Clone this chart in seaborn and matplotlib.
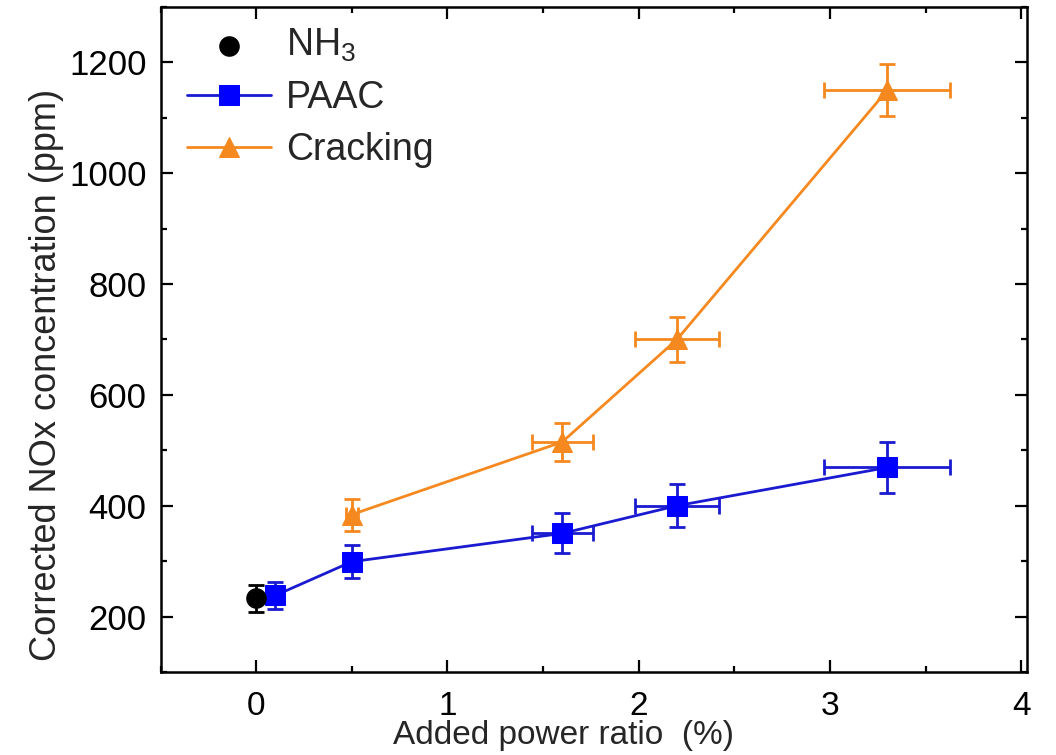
import matplotlib
matplotlib.use("Agg")
import matplotlib.pyplot as plt
from matplotlib.ticker import MultipleLocator
import numpy as np
import pandas as pd
import seaborn as sns

# Baseline (pure NH3)
nh3_x = [0.0]
nh3_y = [233]
nh3_yerr = [24]

# Plasma-assisted ammonia combustion
paac_x = [0.1, 0.5, 1.6, 2.2, 3.3]
paac_y = [238, 299, 350, 400, 469]
paac_xerr = [0.01, 0.03, 0.16, 0.22, 0.33]
paac_yerr = [25, 30, 36, 39, 46]

# Cracking
crack_x = [0.5, 1.6, 2.2, 3.3]
crack_y = [384, 515, 700, 1150]
crack_xerr = [0.03, 0.16, 0.22, 0.33]
crack_yerr = [29, 35, 40, 47]

sns.set_theme(style="ticks")
plt.rcParams["font.family"] = ["Liberation Sans", "DejaVu Sans"]
plt.rcParams["mathtext.fontset"] = "custom"
plt.rcParams["mathtext.rm"] = "Liberation Sans"
plt.rcParams["mathtext.it"] = "Liberation Sans:italic"

blue_line = "#1a1ad0"
blue_mk = "#0000ff"
orange = "#f5891f"

fig = plt.figure(figsize=(10.56, 7.55), dpi=100)
ax = fig.add_axes([0.152, 0.110, 0.8205, 0.8807])

paac = pd.DataFrame({"x": paac_x, "y": paac_y})
crack = pd.DataFrame({"x": crack_x, "y": crack_y})
nh3 = pd.DataFrame({"x": nh3_x, "y": nh3_y})

ax.errorbar(paac_x, paac_y, xerr=paac_xerr, yerr=paac_yerr, fmt="none",
            ecolor=blue_line, elinewidth=2, capsize=5.5, capthick=2, zorder=2)
ax.errorbar(crack_x, crack_y, xerr=crack_xerr, yerr=crack_yerr, fmt="none",
            ecolor=orange, elinewidth=2, capsize=5.5, capthick=2, zorder=2)
ax.errorbar(nh3_x, nh3_y, yerr=nh3_yerr, fmt="none",
            ecolor="black", elinewidth=2, capsize=5.5, capthick=2, zorder=2)

sns.scatterplot(data=nh3, x="x", y="y", ax=ax, color="black", marker="o",
                s=220, edgecolor="black", linewidth=0, label="NH$_3$", zorder=4)
sns.lineplot(data=paac, x="x", y="y", ax=ax, color=blue_line, lw=2,
             marker="s", markersize=14, markerfacecolor=blue_mk,
             markeredgecolor=blue_mk, label="PAAC", zorder=3)
sns.lineplot(data=crack, x="x", y="y", ax=ax, color=orange, lw=2,
             marker="^", markersize=15, markerfacecolor=orange,
             markeredgecolor=orange, label="Cracking", zorder=3)

ax.set_xlim(-0.5, 4.03)
ax.set_ylim(100, 1300)
ax.xaxis.set_major_locator(MultipleLocator(1))
ax.xaxis.set_minor_locator(MultipleLocator(0.5))
ax.yaxis.set_major_locator(MultipleLocator(200))
ax.yaxis.set_minor_locator(MultipleLocator(100))
ax.tick_params(which="both", direction="in", top=True, right=True,
               width=1.6, colors="black")
ax.tick_params(which="major", length=8.5)
ax.tick_params(which="minor", length=4.5)
ax.tick_params(axis="x", labelsize=24, pad=14)
ax.tick_params(axis="y", labelsize=25, pad=10)
for sp in ax.spines.values():
    sp.set_linewidth(1.8)
    sp.set_color("black")

ax.set_xlabel("Added power ratio  (%)", fontsize=24, labelpad=-2)
ax.xaxis.label.set_x(0.4655)
ax.set_ylabel("Corrected NOx concentration (ppm)", fontsize=26, labelpad=4)
ax.yaxis.label.set_y(0.447)

leg = ax.legend(loc="upper left", frameon=False, fontsize=27,
                handlelength=2.25, handletextpad=0.4, borderaxespad=0,
                borderpad=0, labelspacing=0.42,
                bbox_to_anchor=(0.030, 0.970))

fig.savefig("out.png", dpi=100)
